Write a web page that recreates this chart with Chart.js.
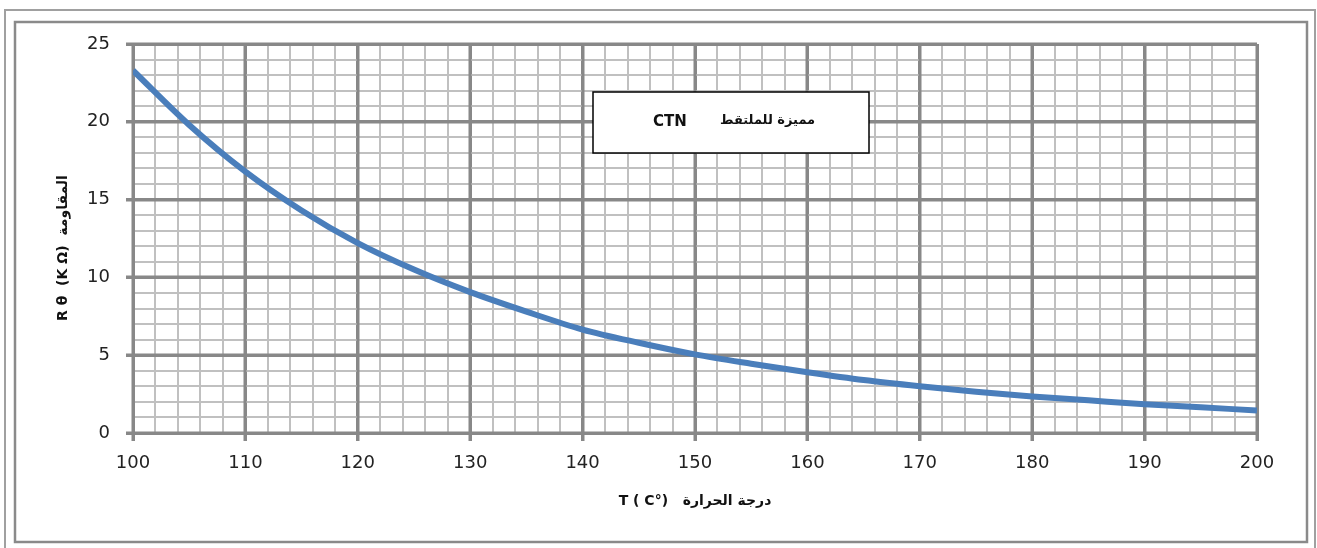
<!DOCTYPE html>
<html>
<head>
<meta charset="utf-8">
<script src="https://cdn.jsdelivr.net/npm/chart.js@4.4.1/dist/chart.umd.min.js"></script>
<style>
  html, body { margin: 0; padding: 0; background: #fff; }
  #wrap { width: 1317px; height: 548px; }
</style>
</head>
<body>
<div id="wrap"><canvas id="ctnChart" width="1317" height="548"></canvas></div>
<script>
// CTN thermistor characteristic: resistance vs temperature

const temperatures = [100, 105, 110, 115, 120, 125, 130, 135, 140, 145, 150,
                      155, 160, 165, 170, 175, 180, 185, 190, 195, 200];
const resistances = [23.3, 19.8, 16.8, 14.3, 12.2, 10.5, 9.05, 7.8, 6.65, 5.8, 5.05,
                     4.45, 3.9, 3.4, 3.0, 2.65, 2.35, 2.1, 1.85, 1.65, 1.45];

const xTitle = 'T ( C°)   درجة الحرارة';
const yTitle = 'R θ  (K Ω)  المقاومة';
const boxLatin = 'CTN';
const boxArabic = 'مميزة للملتقط';

const MAJOR = '#888888';
const MINOR = '#c0c0c0';

// frames, titles and label box drawn around the chart
const decorPlugin = {
    id: 'decor',
    beforeDraw(chart) {
        const ctx = chart.ctx;
        ctx.save();
        ctx.fillStyle = '#ffffff';
        ctx.fillRect(0, 0, chart.width, chart.height);
        ctx.strokeStyle = '#a0a0a0';
        ctx.lineWidth = 2;
        ctx.strokeRect(5, 10, 1310, 560);
        ctx.strokeStyle = '#8a8a8a';
        ctx.lineWidth = 2.5;
        ctx.strokeRect(15, 22, 1292, 520);
        ctx.restore();
    },
    beforeDatasetsDraw(chart) {
        // redraw the major grid lines on top of the minor ones
        const ctx = chart.ctx;
        const area = chart.chartArea;
        const x = chart.scales.x, y = chart.scales.y;
        ctx.save();
        ctx.strokeStyle = MAJOR;
        ctx.lineWidth = 3;
        ctx.beginPath();
        for (let v = 100; v <= 200; v += 10) {
            const px = Math.round(x.getPixelForValue(v));
            ctx.moveTo(px, area.top);
            ctx.lineTo(px, area.bottom + 8);
        }
        for (let v = 0; v <= 25; v += 5) {
            const py = Math.round(y.getPixelForValue(v));
            ctx.moveTo(area.left - 7, py);
            ctx.lineTo(area.right, py);
        }
        ctx.stroke();
        ctx.restore();
    },
    afterDraw(chart) {
        const ctx = chart.ctx;
        const area = chart.chartArea;
        ctx.save();
        ctx.fillStyle = '#111111';
        ctx.textBaseline = 'middle';

        // x title
        ctx.font = 'bold 14px "DejaVu Sans"';
        ctx.textAlign = 'center';
        ctx.fillText(xTitle, (area.left + area.right) / 2, 501);

        // y title
        ctx.translate(63, 248);
        ctx.rotate(-Math.PI / 2);
        ctx.fillText(yTitle, 0, 0);
        ctx.setTransform(1, 0, 0, 1, 0, 0);

        // label box
        ctx.fillStyle = '#ffffff';
        ctx.fillRect(593, 92, 276, 61);
        ctx.strokeStyle = '#000000';
        ctx.lineWidth = 1.5;
        ctx.strokeRect(593, 92, 276, 61);
        ctx.fillStyle = '#111111';
        ctx.textAlign = 'left';
        ctx.font = 'bold 15px "DejaVu Sans"';
        ctx.fillText(boxLatin, 653, 122);
        ctx.font = 'bold 13px "DejaVu Sans"';
        ctx.fillText(boxArabic, 720, 121);
        ctx.restore();
    }
};

const points = temperatures.map((t, i) => ({ x: t, y: resistances[i] }));

new Chart(document.getElementById('ctnChart'), {
    type: 'line',
    data: {
        datasets: [{
            data: points,
            borderColor: '#4a7ebb',
            borderWidth: 6,
            pointRadius: 0,
            fill: false,
            cubicInterpolationMode: 'monotone'
        }]
    },
    options: {
        responsive: false,
        animation: false,
        events: [],
        layout: { padding: { left: 0, top: 44, right: 60, bottom: 0 } },
        plugins: {
            legend: { display: false },
            tooltip: { enabled: false }
        },
        scales: {
            x: {
                type: 'linear',
                min: 100,
                max: 200,
                afterFit: (s) => { s.height = 115; },
                border: { display: true, color: MAJOR, width: 3 },
                grid: {
                    color: (c) => (c.tick && c.tick.value % 10 === 0 ? MAJOR : MINOR),
                    lineWidth: (c) => (c.tick && c.tick.value % 10 === 0 ? 3 : 2),
                    tickColor: (c) => (c.tick && c.tick.value % 10 === 0 ? MAJOR : 'rgba(0,0,0,0)'),
                    tickWidth: 3,
                    tickLength: 8
                },
                ticks: {
                    stepSize: 2,
                    autoSkip: false,
                    maxRotation: 0,
                    padding: 12,
                    color: '#222222',
                    font: { family: '"DejaVu Sans"', size: 18 },
                    callback: (v) => (v % 10 === 0 ? v : '')
                }
            },
            y: {
                min: 0,
                max: 25,
                afterFit: (s) => { s.width = 133; },
                border: { display: true, color: MAJOR, width: 3 },
                grid: {
                    color: (c) => (c.tick && c.tick.value % 5 === 0 ? MAJOR : MINOR),
                    lineWidth: (c) => (c.tick && c.tick.value % 5 === 0 ? 3 : 2),
                    tickColor: (c) => (c.tick && c.tick.value % 5 === 0 ? MAJOR : 'rgba(0,0,0,0)'),
                    tickWidth: 3,
                    tickLength: 7
                },
                ticks: {
                    stepSize: 1,
                    autoSkip: false,
                    padding: 16,
                    color: '#222222',
                    font: { family: '"DejaVu Sans"', size: 18 },
                    callback: (v) => (v % 5 === 0 ? v : '')
                }
            }
        }
    },
    plugins: [decorPlugin]
});
</script>
</body>
</html>
